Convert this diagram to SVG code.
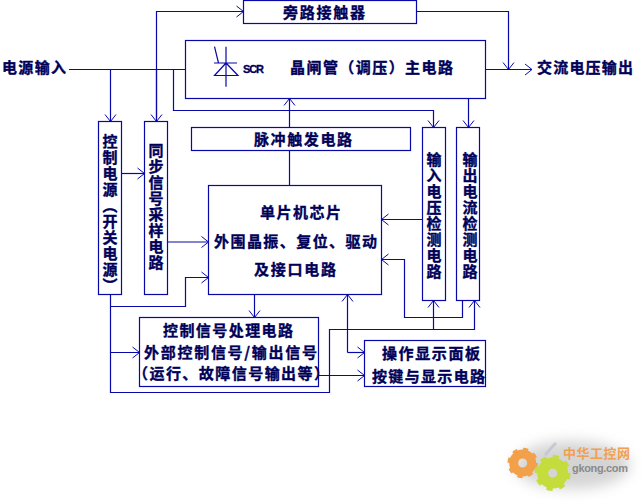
<svg xmlns="http://www.w3.org/2000/svg" width="643" height="500" viewBox="0 0 643 500">
<style>
.b{fill:#fff;stroke:#0808a8;stroke-width:1.2}
.c{fill:none;stroke:#0808a8;stroke-width:1.2}
.t{font-family:"Noto Sans CJK SC","Noto Sans CJK JP",sans-serif;font-weight:700;font-size:15px;fill:#000058;stroke:#000058;stroke-width:.35}
.v{writing-mode:vertical-rl;letter-spacing:1px}
.s{font-family:"Liberation Sans",sans-serif;font-weight:700;font-size:11px;fill:#000058;stroke:#000058;stroke-width:.3}
</style>
<defs>
<marker id="a" markerUnits="userSpaceOnUse" markerWidth="10" markerHeight="14" refX="8" refY="7" orient="auto"><path d="M1 1.5L8 7L1 12.5" fill="none" stroke="#0808a8" stroke-width="1"/></marker>
<filter id="bl" x="-30%" y="-30%" width="160%" height="160%"><feGaussianBlur stdDeviation="7"/></filter>
</defs>
<rect width="643" height="500" fill="#fff"/>
<g id="connectors">
<path class="c" d="M69 69.5H185.5"/>
<path class="c" d="M110.5 69.5V121.5" marker-end="url(#a)"/>
<path class="c" d="M156.5 121.5V11.5H243.5" marker-end="url(#a)"/>
<path class="c" d="M156.5 69.5V121.5" marker-end="url(#a)"/>
<path class="c" d="M173.5 69.5V110.5H433.5V127.5" marker-end="url(#a)"/>
<path class="c" d="M289.5 185.5V98.5" marker-end="url(#a)"/>
<path class="c" d="M121.5 173.5H144.5" marker-end="url(#a)"/>
<path class="c" d="M167.5 242H208.5" marker-end="url(#a)"/>
<path class="c" d="M110.5 306.5H185.5V277.5H208.5" marker-end="url(#a)"/>
<path class="c" d="M110.5 294.5V352.5H139.5" marker-end="url(#a)"/>
<path class="c" d="M110.5 352.5V392.5H329.5V329.5H474.5V300.5" marker-end="url(#a)"/>
<path class="c" d="M433.5 329.5V300.5" marker-end="url(#a)"/>
<path class="c" d="M254.5 294.5V317.5" marker-end="url(#a)"/>
<path class="c" d="M347.5 352.5V294.5" marker-end="url(#a)"/>
<path class="c" d="M347.5 352.5H364.5" marker-end="url(#a)"/>
<path class="c" d="M318.5 375.5H364.5" marker-end="url(#a)"/>
<path class="c" d="M422.5 219.5H381.5" marker-end="url(#a)"/>
<path class="c" d="M462.5 300.5V317.5H404.5V259.5H381.5" marker-end="url(#a)"/>
<path class="c" d="M468.5 98.5V127.5" marker-end="url(#a)"/>
<path class="c" d="M485.5 69.5H532" marker-end="url(#a)"/>
<path class="c" d="M416.5 11.5H508.5V69.5" marker-end="url(#a)"/>
</g>
<g id="power-in"><text class="t" x="2" y="73" textLength="64">电源输入</text></g>
<g id="ac-out"><text class="t" x="537" y="73" textLength="96">交流电压输出</text></g>
<g id="bypass"><rect class="b" x="243.5" y="0.5" width="173" height="23"/><text class="t" x="283" y="17.5" textLength="82">旁路接触器</text></g>
<g id="main">
<rect class="b" x="185.5" y="40.5" width="300" height="58"/>
<path class="c" d="M226 46.700V86.700M214 63H237M226 63L214.500 75.500H238Z M214.500 46.700L218.500 63"/>
<text class="s" x="243" y="73" textLength="21">SCR</text>
<text class="t" x="290" y="73" textLength="163">晶闸管（调压）主电路</text>
</g>
<g id="pulse"><rect class="b" x="191.5" y="127.500" width="219" height="23"/><text class="t" x="254" y="145" textLength="98">脉冲触发电路</text></g>
<g id="control-power"><rect class="b" x="98.500" y="121.500" width="23" height="173"/><text class="t v" x="110" y="134">控制电源（开关电源）</text></g>
<g id="sync"><rect class="b" x="144.500" y="121.500" width="23" height="173"/><text class="t v" x="156" y="143">同步信号采样电路</text></g>
<g id="mcu"><rect class="b" x="208.500" y="185.500" width="173" height="109"/>
<text class="t" x="260" y="217.500" textLength="81">单片机芯片</text>
<text class="t" x="214" y="246.500" textLength="163">外围晶振、复位、驱动</text>
<text class="t" x="254" y="274.500" textLength="82">及接口电路</text></g>
<g id="input-detect"><rect class="b" x="422.500" y="127.500" width="23" height="173"/><text class="t v" x="434" y="152">输入电压检测电路</text></g>
<g id="output-detect"><rect class="b" x="456.500" y="127.500" width="23" height="173"/><text class="t v" x="470" y="152">输出电流检测电路</text></g>
<g id="signal"><rect class="b" x="139.500" y="317.500" width="179" height="69"/>
<text class="t" x="163" y="335.500" textLength="130">控制信号处理电路</text>
<text class="t" x="144" y="357.500" textLength="173">外部控制信号/输出信号</text>
<text class="t" x="133" y="378.500" textLength="196">（运行、故障信号输出等）</text></g>
<g id="panel"><rect class="b" x="364.500" y="340.500" width="121" height="46"/>
<text class="t" x="382" y="358.500" textLength="98">操作显示面板</text>
<text class="t" x="372" y="381.500" textLength="113">按键与显示电路</text></g>
<g id="watermark">
<ellipse cx="572" cy="465" rx="58" ry="24" fill="#d4d4d4" filter="url(#bl)"/>
<path d="M545 455L553 446L556 443" fill="none" stroke="#c8c8d0" stroke-width="3"/>
<circle cx="522.700" cy="463" r="9" fill="none" stroke="#f2a04a" stroke-width="9"/>
<circle cx="522.700" cy="463" r="13.500" fill="none" stroke="#f2a04a" stroke-width="3.500" stroke-dasharray="5 5.600"/>
<circle cx="552.700" cy="473" r="10" fill="none" stroke="#c4dc3c" stroke-width="11"/>
<circle cx="552.700" cy="473" r="16" fill="none" stroke="#c4dc3c" stroke-width="4" stroke-dasharray="6 6.500"/>
<text x="563" y="458" textLength="67" font-family="'Noto Sans CJK SC',sans-serif" font-weight="700" font-size="13" fill="#f0a050">中华工控网</text>
<text x="572" y="472" textLength="56" font-family="'Liberation Sans',sans-serif" font-weight="700" font-size="11" fill="#8a8a8a">gkong.com</text>
</g>
</svg>
